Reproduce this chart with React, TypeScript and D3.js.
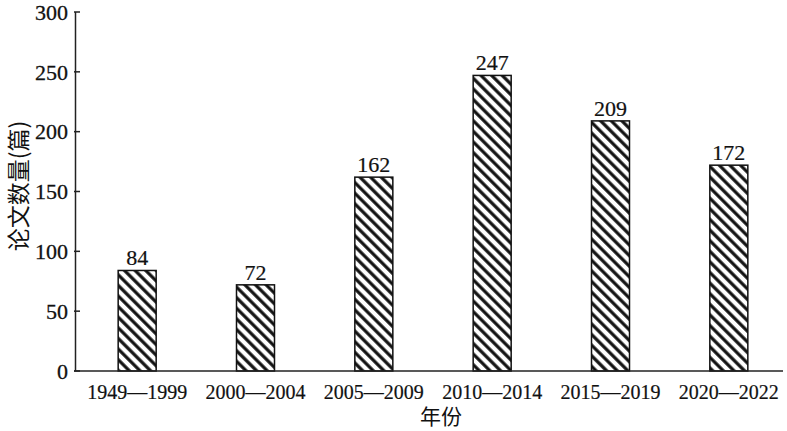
import React from "react";
import * as d3 from "d3";

const categories = ["1949—1999", "2000—2004", "2005—2009", "2010—2014", "2015—2019", "2020—2022"];
const values = [84, 72, 162, 247, 209, 172];
const yTicks = [0, 50, 100, 150, 200, 250, 300];
const yLabel = "论文数量(篇)";
const xLabel = "年份";

const W = 787;
const H = 431;
const axisX = 74;
const axisY = 371;
const topY = 12;
const serif = "'Liberation Serif', 'Times New Roman', serif";
const cjk = "'Noto Sans CJK SC', sans-serif";

export default function App() {
  const x = d3.scaleBand<string>().domain(categories).range([78, 788]).padding(0);
  const y = d3.scaleLinear().domain([0, 300]).range([axisY, topY]);
  const barW = 38;
  return (
    <svg width={W} height={H} style={{ position: "absolute", left: 0, top: 0, background: "#fff" }}>
      <defs>
        <pattern id="hatch" patternUnits="userSpaceOnUse" width="7.5" height="7.5" patternTransform="rotate(-45)">
          <rect width="7.5" height="7.5" fill="#fff" />
          <line x1="1.8" y1="0" x2="1.8" y2="7.5" stroke="#111" strokeWidth="3.2" />
        </pattern>
      </defs>
      {/* y axis */}
      <line x1={axisX + 1.5} y1={topY} x2={axisX + 1.5} y2={axisY} stroke="#222" strokeWidth={1.5} />
      {yTicks.map((t) => (
        <g key={t}>
          <line x1={axisX} x2={axisX + 6} y1={y(t)} y2={y(t)} stroke="#222" strokeWidth={1.5} />
          <text x={68} y={y(t)} dy="0.35em" textAnchor="end" fontFamily={serif} fontSize={22} fill="#111" stroke="#111" strokeWidth={0.3}>
            {t}
          </text>
        </g>
      ))}
      {/* bars */}
      {categories.map((c, i) => {
        const cx = (x(c) as number) + x.bandwidth() / 2;
        return (
          <g key={c}>
            <rect
              x={cx - barW / 2}
              y={y(values[i])}
              width={barW}
              height={axisY - y(values[i])}
              fill="url(#hatch)"
              stroke="#111"
              strokeWidth={1.5}
            />
            <text x={cx} y={y(values[i]) - 5} textAnchor="middle" fontFamily={serif} fontSize={22} fill="#111" stroke="#111" strokeWidth={0.2}>
              {values[i]}
            </text>
            <text x={cx} y={399} textAnchor="middle" fontFamily={serif} fontSize={20} fill="#111" stroke="#111" strokeWidth={0.2}>
              {c}
            </text>
          </g>
        );
      })}
      {/* x axis */}
      <line x1={axisX} y1={axisY} x2={783} y2={axisY} stroke="#222" strokeWidth={1.5} />
      <text x={441} y={424} textAnchor="middle" fontFamily={cjk} fontSize={21} fill="#111">
        {xLabel}
      </text>
      <text
        transform={`translate(19, 186) rotate(-90)`}
        textAnchor="middle"
        dy="0.35em"
        fontFamily={cjk}
        fontSize={23}
        fill="#111"
      >
        {yLabel}
      </text>
    </svg>
  );
}
